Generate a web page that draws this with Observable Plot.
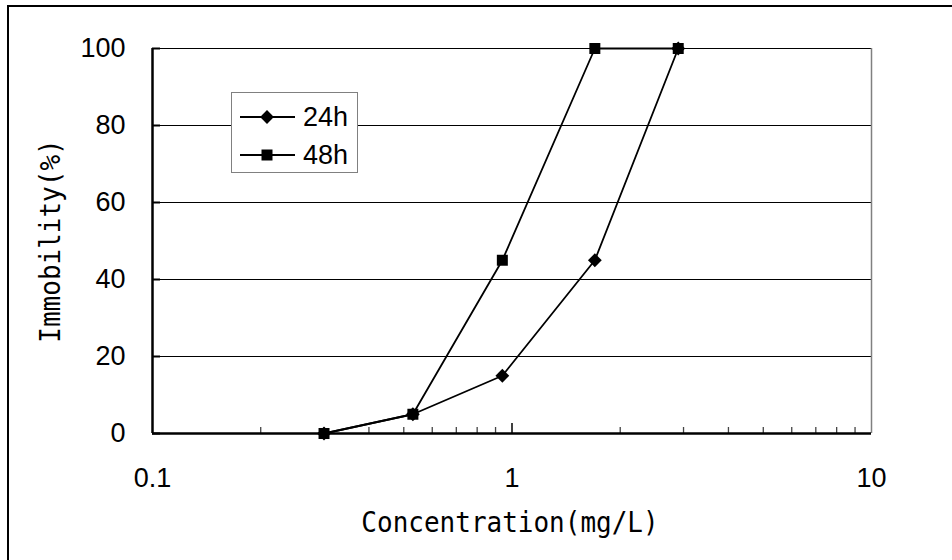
<!DOCTYPE html>
<html>
<head>
<meta charset="utf-8">
<script src="https://cdn.jsdelivr.net/npm/d3@7"></script>
<script src="https://cdn.jsdelivr.net/npm/@observablehq/plot@0.6"></script>
<style>
  html, body { margin: 0; padding: 0; background: #fff; overflow: hidden; }
  #wrap { position: relative; width: 952px; height: 560px; overflow: hidden; background: #fff; }
  #border { position: absolute; left: 7px; top: 5px; width: 1000px; height: 700px;
            border: 2.5px solid #000; box-sizing: border-box; }
  #chart { position: absolute; left: 0; top: 0; }
  #legend { position: absolute; left: 231px; top: 92px; }
</style>
</head>
<body>
<div id="wrap">
  <div id="border"></div>
  <div id="chart"></div>
  <div id="legend"></div>
</div>
<script>
// Concentration (mg/L) of each test group and immobility (%) after 24 h and 48 h
const concentration = [0.3, 0.53, 0.94, 1.7, 2.9];
const immobility24h = [0, 5, 15, 45, 100];
const immobility48h = [0, 5, 45, 100, 100];
const seriesNames = ["24h", "48h"];

// Axis ticks
const xTickValues = [0.1, 1, 10];
const xTickLabels = ["0.1", "1", "10"];
const xMinorTicks = [0.2, 0.3, 0.4, 0.5, 0.6, 0.7, 0.8, 0.9, 2, 3, 4, 5, 6, 7, 8, 9];
const yTickValues = [0, 20, 40, 60, 80, 100];

const xTitle = "Concentration(mg/L)";
const yTitle = "Immobility(%)";

// Long-format table for the line and dot marks
const rows = [
  ...concentration.map((c, i) => ({series: seriesNames[0], conc: c, value: immobility24h[i]})),
  ...concentration.map((c, i) => ({series: seriesNames[1], conc: c, value: immobility48h[i]}))
];
const rows24 = rows.filter(d => d.series === seriesNames[0]);
const rows48 = rows.filter(d => d.series === seriesNames[1]);

const W = 952, H = 560;
const mL = 152, mR = 81, mT = 48, mB = 127;
const innerW = W - mL - mR, innerH = H - mT - mB;

const titleFont = "'DejaVu Sans Mono', 'Liberation Mono', monospace";

const chart = Plot.plot({
  width: W,
  height: H,
  marginLeft: mL,
  marginRight: mR,
  marginTop: mT,
  marginBottom: mB,
  style: {fontFamily: "'Liberation Sans', Arial, sans-serif", fontSize: "27px", color: "#000", background: "transparent"},
  x: {
    type: "log",
    domain: [0.1, 10],
    ticks: xTickValues,
    tickFormat: d => xTickLabels[xTickValues.indexOf(d)],
    tickSize: 0,
    tickPadding: 34,
    label: null
  },
  y: {
    domain: [0, 100],
    ticks: yTickValues,
    tickSize: 0,
    tickPadding: 27,
    label: null
  },
  marks: [
    // horizontal gridlines
    Plot.ruleY(yTickValues.filter(v => v > 0), {y: d => d, stroke: "#000", strokeWidth: 1}),
    // right edge of the plot area
    Plot.ruleX([10], {x: d => d, stroke: "#808080", strokeWidth: 1.5}),
    // inward y ticks
    Plot.tickY(yTickValues, {y: d => d, insetRight: innerW - 8, stroke: "#000", strokeWidth: 2}),
    // inward x ticks (minor and major)
    Plot.tickX(xMinorTicks, {x: d => d, insetTop: innerH - 6, stroke: "#444", strokeWidth: 1.3}),
    Plot.tickX([1], {x: d => d, insetTop: innerH - 10, stroke: "#000", strokeWidth: 1.5}),
    // axis lines
    Plot.ruleY([0], {y: d => d, stroke: "#000", strokeWidth: 2.5}),
    Plot.ruleX([0.1], {x: d => d, stroke: "#000", strokeWidth: 2.5}),
    // series
    Plot.line(rows24, {x: "conc", y: "value", stroke: "#000", strokeWidth: 1.8}),
    Plot.line(rows48, {x: "conc", y: "value", stroke: "#000", strokeWidth: 1.8}),
    Plot.dot(rows24, {x: "conc", y: "value", symbol: "diamond2", r: 6.2, fill: "#000", stroke: "none"}),
    Plot.dot(rows48, {x: "conc", y: "value", symbol: "square", r: 6.2, fill: "#000", stroke: "none"}),
    // axis titles
    Plot.text([yTitle], {text: d => d, frameAnchor: "left", textAnchor: "middle", lineAnchor: "middle",
      rotate: -90, dx: -102, fontFamily: titleFont, fontSize: 26, fill: "#000"}),
    Plot.text([xTitle], {text: d => d, frameAnchor: "bottom", textAnchor: "middle", lineAnchor: "middle",
      dx: -2, dy: 89, fontFamily: titleFont, fontSize: 26, fill: "#000"})
  ]
});
document.getElementById("chart").appendChild(chart);

// Axis titles are set in a tall, narrow face: stretch the glyphs vertically
d3.select(chart).selectAll("text")
  .filter(function() { return this.textContent === xTitle || this.textContent === yTitle; })
  .each(function() {
    const t = this.getAttribute("transform");
    if (t) this.setAttribute("transform", t + " scale(1,1.12)");
  });

// Legend box
const lg = d3.select("#legend").append("svg")
  .attr("width", 128).attr("height", 82)
  .style("font-family", "'Liberation Sans', Arial, sans-serif")
  .style("font-size", "27px");
lg.append("rect").attr("x", 0.5).attr("y", 0.5).attr("width", 126).attr("height", 80)
  .attr("fill", "#fff").attr("stroke", "#808080").attr("stroke-width", 1);
const legendItems = [
  {name: seriesNames[0], symbol: d3.symbolDiamond2, size: 121},
  {name: seriesNames[1], symbol: d3.symbolSquare, size: 121}
];
legendItems.forEach((item, i) => {
  const cy = 25 + i * 38;
  lg.append("line").attr("x1", 9).attr("x2", 64).attr("y1", cy).attr("y2", cy)
    .attr("stroke", "#000").attr("stroke-width", 1.8);
  lg.append("path").attr("d", d3.symbol(item.symbol, item.size)())
    .attr("transform", `translate(36,${cy})`).attr("fill", "#000");
  lg.append("text").attr("x", 72).attr("y", cy).attr("dy", "0.35em")
    .attr("fill", "#000").text(item.name);
});
</script>
</body>
</html>
